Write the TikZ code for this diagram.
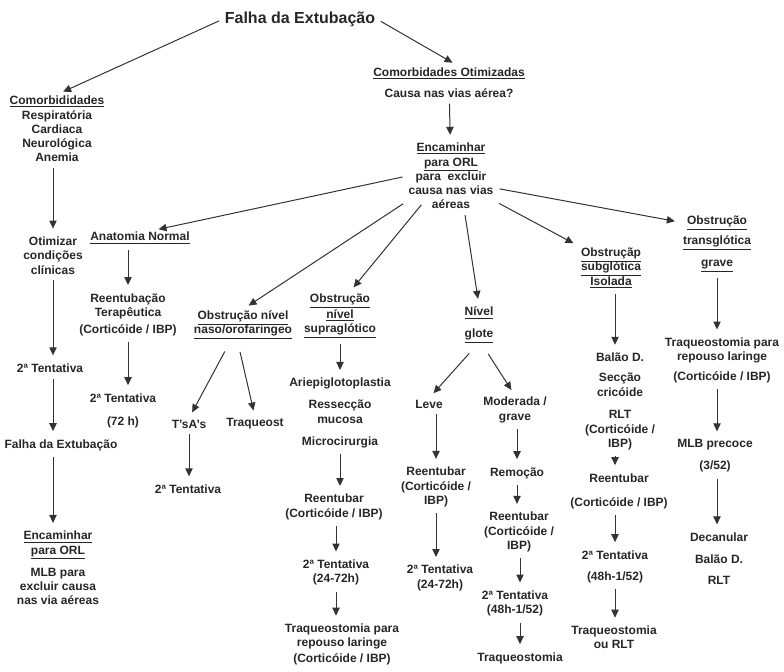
\documentclass[tikz,border=0pt]{standalone}
\usepackage{fontspec}
\setmainfont{Liberation Sans}
\usetikzlibrary{arrows.meta}

\begin{document}
\begin{tikzpicture}[x=0.75pt,y=-0.75pt,
    txt/.style={font=\fontsize{9}{10.7}\selectfont\bfseries, align=center, inner sep=1pt, text=black!85},
    arr/.style={-{Triangle[length=6pt,width=5.5pt]}, line width=0.75pt, draw=black!80,
      shorten <=3.5pt, shorten >=5pt}]
  \useasboundingbox (0,0) rectangle (784,671);
  % top
  \node[txt, font=\fontsize{12}{14}\selectfont\bfseries] (top) at (300,19) {Falha da Extubação};
  % left column
  \node[txt] (comorb) at (57,129) {\underline{Comorbididades}\\Respiratória\\Cardiaca\\Neurológica\\Anemia};
  \node[txt] (otim) at (53,255.5) {Otimizar\\condições\\clínicas};
  \node[txt] (tent) at (50,368) {2ª Tentativa};
  \node[txt] (falha) at (61,445) {Falha da Extubação};
  \node[txt] (encL) at (58,568) {\underline{Encaminhar}\\\underline{para ORL}\\[5.8pt]MLB para\\excluir causa\\nas via aéreas};
  % right branch
  \node[txt] (otimiz) at (449,82.5) {\underline{Comorbidades Otimizadas}\\[5pt]Causa nas vias aérea?};
  \node[txt] (encOrl) at (451,176) {\underline{Encaminhar}\\\underline{para ORL}\\para\ \ excluir\\causa nas vias\\aéreas};
  % anatomia normal
  \node[txt] (anat) at (140,238) {\underline{Anatomia Normal}};
  \node[txt] (reent) at (128,314.5) {Reentubação\\Terapêutica\\[2pt](Corticóide / IBP)};
  \node[txt] (tentA) at (123,410.5) {2ª Tentativa\\[6.5pt](72 h)};
  % naso/orofaringeo
  \node[txt] (naso) at (243,325) {\underline{Obstrução nível}\\\underline{naso/orofaringeo}};
  \node[txt] (tsas) at (189,424) {T'sA's};
  \node[txt] (traqst) at (255,424) {Traqueost};
  \node[txt] (tentB) at (188,489) {2ª Tentativa};
  % supraglotico
  \node[txt] (supra) at (340,316) {\underline{Obstrução}\\[1pt]\underline{nível}\\\underline{supraglótico}};
  \node[txt] (aryp) at (340,413) {Ariepiglotoplastia\\[5.8pt]Ressecção\\mucosa\\[5.8pt]Microcirurgia};
  \node[txt] (reentB) at (334,507) {Reentubar\\(Corticóide / IBP)};
  \node[txt] (tentC) at (336,572.5) {2ª Tentativa\\(24-72h)};
  \node[txt] (traqB) at (342,644.5) {Traqueostomia para\\repouso laringe\\[1pt](Corticóide / IBP)};
  % glote
  \node[txt] (glote) at (479,325) {\underline{Nível}\\[5.8pt]\underline{glote}};
  \node[txt] (leve) at (429,404) {Leve};
  \node[txt] (mod) at (515,410) {Moderada /\\grave};
  \node[txt] (reentC) at (436,487) {Reentubar\\(Corticóide /\\IBP)};
  \node[txt] (tentD) at (440,578) {2ª Tentativa\\(24-72h)};
  \node[txt] (remo) at (517,473) {Remoção};
  \node[txt] (reentD) at (519,532) {Reentubar\\(Corticóide /\\IBP)};
  \node[txt] (tentE) at (515,603.5) {2ª Tentativa\\(48h-1/52)};
  \node[txt] (traqC) at (520,658) {Traqueostomia};
  % subglotica
  \node[txt] (subg) at (611,268) {\underline{Obstruçãp}\\\underline{subglótica}\\\underline{Isolada}};
  \node[txt] (balao) at (620,401.5) {Balão D.\\[4.3pt]Secção\\cricóide\\[6.5pt]RLT\\(Corticóide /\\IBP)};
  \node[txt] (reentE) at (619,491) {Reentubar\\[7.3pt](Corticóide / IBP)};
  \node[txt] (tentF) at (615,566.5) {2ª Tentativa\\[5pt](48h-1/52)};
  \node[txt] (traqD) at (614,637.5) {Traqueostomia\\ou RLT};
  % transglotica
  \node[txt] (trans) at (717,244) {\underline{Obstrução}\\[4.3pt]\underline{transglótica}\\[5.8pt]\underline{grave}};
  \node[txt] (traqE) at (722,360.5) {Traqueostomia para\\repouso laringe\\[4.3pt](Corticóide / IBP)};
  \node[txt] (mlb) at (715,456) {MLB precoce\\[5.8pt](3/52)};
  \node[txt] (decan) at (719,558.5) {Decanular\\[5.8pt]Balão D.\\[5pt]RLT};

  % arrows
  \draw[arr] (top.west) -- (comorb.north);
  \draw[arr] (top.east) -- ([xshift=7pt]otimiz.north);
  \draw[arr] (comorb.south -| otim) -- (otim);
  \draw[arr] (otim) -- (otim |- tent.north);
  \draw[arr] (otim |- tent.south) -- (otim |- falha.north);
  \draw[arr] (otim |- falha.south) -- (otim |- encL.north);
  \draw[arr] (otimiz) -- (encOrl);
  \draw[arr] (encOrl.west) -- ([xshift=9pt]anat.north);
  \draw[arr] ([yshift=7pt]encOrl.south west) -- (naso.north);
  \draw[arr] ([xshift=-20pt,yshift=7pt]encOrl.south) -- ([xshift=7pt]supra.north);
  \draw[arr] ([xshift=10pt]encOrl.south) -- (glote.north);
  \draw[arr] ([yshift=7pt]encOrl.south east) -- (subg.north west);
  \draw[arr] ([yshift=-9pt]encOrl.east) -- ([yshift=-6pt]trans.north west);
  \draw[arr] (anat.south -| reent) -- (reent);
  \draw[arr] (reent) -- (reent |- tentA.north);
  \draw[arr] ([xshift=-12pt,yshift=-5pt]naso.south) -- (tsas.north);
  \draw[arr] ([xshift=-3pt,yshift=-5pt]naso.south) -- (traqst.north);
  \draw[arr] (tsas) -- (tsas |- tentB.north);
  \draw[arr] (supra) -- (aryp);
  \draw[arr] (aryp) -- (aryp |- reentB.north);
  \draw[arr] (reentB.south -| tentC) -- (tentC);
  \draw[arr] (tentC) -- (tentC |- traqB.north);
  \draw[arr] ([xshift=-5pt,yshift=-4pt]glote.south) -- (leve.north);
  \draw[arr] ([xshift=5pt,yshift=-4pt]glote.south) -- (mod.north);
  \draw[arr] (leve.south -| reentC) -- (reentC);
  \draw[arr] (reentC) -- (reentC |- tentD.north);
  \draw[arr] (mod.south -| remo) -- (remo);
  \draw[arr] (remo) -- (remo |- reentD.north);
  \draw[arr] (reentD.south -| traqC) -- (traqC |- tentE.north);
  \draw[arr] (tentE.south -| traqC) -- (traqC);
  \draw[arr] (subg.south -| tentF) -- (tentF |- balao.north);
  \draw[arr] (balao.south -| tentF) -- (tentF |- reentE.north);
  \draw[arr] (reentE.south -| tentF) -- (tentF);
  \draw[arr] (tentF) -- (tentF |- traqD.north);
  \draw[arr] (trans) -- (trans |- traqE.north);
  \draw[arr] (traqE.south -| trans) -- (trans |- mlb.north);
  \draw[arr] (mlb.south -| trans) -- (trans |- decan.north);
\end{tikzpicture}
\end{document}
